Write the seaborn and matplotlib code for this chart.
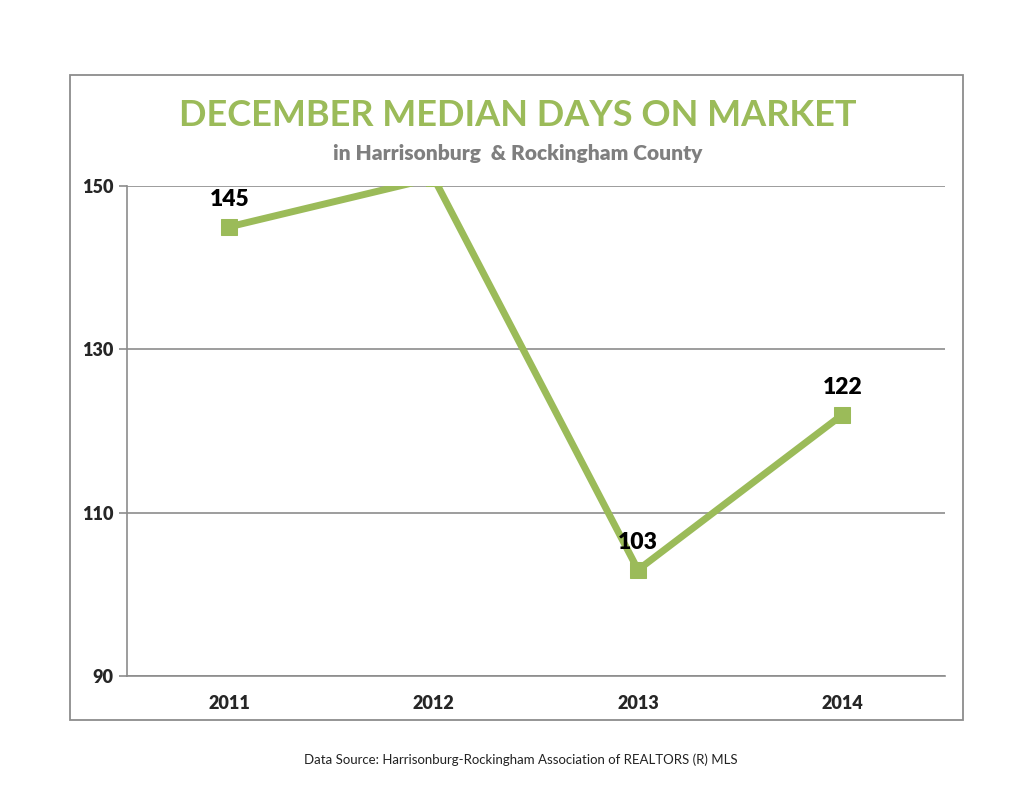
import matplotlib
matplotlib.use("Agg")
import matplotlib.pyplot as plt
import seaborn as sns
import pandas as pd
from matplotlib.patches import Rectangle

years = ["2011", "2012", "2013", "2014"]
days = [145, 151, 103, 122]
yticks = [90, 110, 130, 150]

green = "#9BBB59"
df = pd.DataFrame({"pos": range(len(years)), "days": days})

sns.set_style("white")
plt.rcParams['font.family'] = ['Lato', 'DejaVu Sans']

fig = plt.figure(figsize=(10.35, 8), dpi=100)
ax = fig.add_axes([0.1227, 0.155, 0.79, 0.6125])

# outer chart border
fig.patches.append(Rectangle((0.0676, 0.1), 0.8625, 0.806, transform=fig.transFigure,
                             fill=False, edgecolor="#8c8c8c", linewidth=1.3))

sns.lineplot(data=df, x="pos", y="days", ax=ax, color=green, linewidth=5,
             marker="s", markersize=11, markeredgecolor=green)

ymax = max(yticks)
for x, v in zip(df["pos"], days):
    if v > ymax:
        continue  # label falls outside plot area, hidden like the original
    ax.text(x, v + 2.1, str(v), ha="center", va="bottom", fontsize=16.5,
            fontweight="heavy", color="black")

ax.set_xlim(-0.5, len(years) - 0.5)
ax.set_ylim(90, ymax)
ax.set_yticks(yticks)
ax.set_yticklabels([str(t) for t in yticks], fontsize=13, fontweight="heavy")
ax.set_xticks(range(len(years)))
ax.set_xticklabels(years, fontsize=13, fontweight="heavy")
ax.set_xticks([i - 0.5 for i in range(len(years) + 1)], minor=True)
ax.tick_params(axis="x", which="major", length=0, pad=14)
ax.tick_params(axis="x", which="minor", length=6, color="#8c8c8c", width=1.2)
ax.tick_params(axis="y", length=6, color="#8c8c8c", width=1.2, pad=4, left=True)
ax.set_xlabel("")
ax.set_ylabel("")
ax.grid(axis="y", color="#8c8c8c", linewidth=1.2)
ax.set_axisbelow(True)
for s in ["top", "right"]:
    ax.spines[s].set_visible(False)
for s in ["left", "bottom"]:
    ax.spines[s].set_color("#8c8c8c")
    ax.spines[s].set_linewidth(1.2)

fig.text(0.5, 0.856, "DECEMBER MEDIAN DAYS ON MARKET", ha="center", va="center",
         fontsize=26, fontweight="bold", color=green)
fig.text(0.5, 0.808, "in Harrisonburg  & Rockingham County", ha="center", va="center",
         fontsize=15, fontweight="heavy", color="#7f7f7f")
fig.text(0.503, 0.05, "Data Source: Harrisonburg-Rockingham Association of REALTORS (R) MLS",
         ha="center", va="center", fontsize=9.5, color="#222222")

fig.savefig("out.png", dpi=100)
plt.close()
